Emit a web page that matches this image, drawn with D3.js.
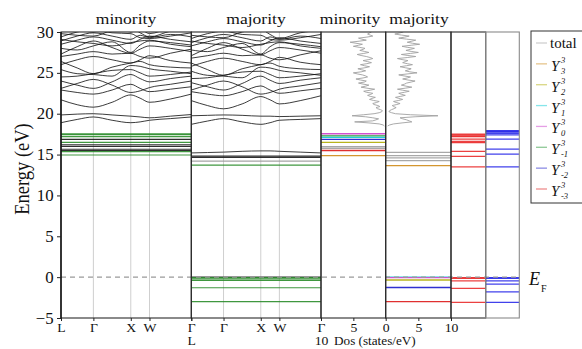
<!DOCTYPE html>
<html>
<head>
<meta charset="utf-8">
<script src="https://cdn.jsdelivr.net/npm/d3@7"></script>
<style>
  body { margin: 0; background: #fff; }
  svg text { font-family: "Liberation Serif", "DejaVu Serif", serif; fill: #111; }
</style>
</head>
<body>
<svg id="chart" width="582" height="349"></svg>
<script>
// k-path L-Γ-X-W-Γ (fcc), band energies sampled at kSamples
const kLabels = ['L', 'Γ', 'X', 'W', 'Γ'];
const kTicks = [0, 0.866, 1.866, 2.366, 3.484];
const kSamples = [0, 0.433, 0.866, 1.366, 1.866, 2.116, 2.366, 2.925, 3.484];
const energyTicks = [-5, 0, 5, 10, 15, 20, 25, 30];

const minorityBands = [
  [19.85, 19.95, 20.0, 19.85, 19.7, 19.6, 19.5, 19.7, 19.9],
  [18.9, 19.3, 19.6, 19.2, 18.9, 19.0, 19.2, 19.4, 19.6],
  [21.7, 21.1, 20.8, 21.4, 22.3, 21.9, 21.4, 21.8, 22.4],
  [22.9, 22.6, 22.4, 22.9, 23.6, 23.1, 22.7, 23.0, 23.3],
  [23.1, 23.7, 24.2, 23.5, 22.6, 22.8, 23.2, 23.6, 24.0],
  [24.0, 23.5, 23.1, 23.9, 24.8, 24.3, 23.9, 24.3, 24.6],
  [24.5, 24.6, 24.9, 25.3, 25.4, 25.0, 24.6, 24.8, 25.1],
  [25.4, 24.9, 24.8, 24.6, 25.9, 25.8, 25.5, 25.2, 24.9],
  [26.4, 25.6, 24.9, 25.7, 26.2, 26.4, 26.0, 25.7, 25.6],
  [26.0, 26.6, 27.0, 26.6, 26.2, 26.6, 27.1, 26.5, 26.2],
  [27.0, 27.3, 27.6, 27.3, 27.4, 27.0, 26.8, 27.4, 27.9],
  [27.3, 28.2, 28.9, 28.1, 27.4, 27.9, 28.3, 28.0, 27.6],
  [28.0, 27.8, 28.3, 28.8, 27.5, 28.4, 28.9, 28.7, 28.4],
  [28.5, 29.0, 29.4, 29.0, 28.6, 29.1, 29.5, 29.1, 28.8],
  [28.9, 29.5, 29.9, 29.5, 29.1, 29.6, 29.3, 29.7, 29.4],
  [29.4, 30.0, 30.3, 29.9, 29.8, 29.3, 29.2, 29.5, 29.9],
  [29.8, 29.6, 29.5, 30.2, 30.5, 29.9, 29.4, 30.1, 30.4],
  [30.3, 30.2, 30.0, 30.6, 30.0, 30.3, 29.8, 30.5, 30.8],
  [29.1, 28.8, 28.6, 28.3, 28.7, 28.9, 29.0, 28.5, 28.2]
];

const majorityBands = [
  [15.2, 15.25, 15.3, 15.4, 15.45, 15.45, 15.4, 15.3, 15.2],
  [19.75, 19.8, 19.85, 19.8, 19.7, 19.7, 19.65, 19.7, 19.75],
  [18.7, 19.1, 19.4, 19.0, 18.7, 18.9, 19.2, 19.3, 19.4],
  [21.6, 21.0, 20.6, 21.2, 22.1, 21.7, 21.2, 21.6, 22.2],
  [22.7, 22.4, 22.2, 22.7, 23.4, 22.9, 22.5, 22.8, 23.1],
  [22.9, 23.5, 24.0, 23.3, 22.4, 22.6, 23.0, 23.4, 23.8],
  [23.8, 23.3, 22.9, 23.7, 24.6, 24.1, 23.7, 24.1, 24.4],
  [24.3, 24.4, 24.7, 25.1, 25.2, 24.8, 24.4, 24.6, 24.9],
  [25.2, 24.7, 24.6, 24.4, 25.7, 25.6, 25.3, 25.0, 24.7],
  [26.2, 25.4, 24.7, 25.5, 26.0, 26.2, 25.8, 25.5, 25.4],
  [25.8, 26.4, 26.8, 26.4, 26.0, 26.4, 26.9, 26.3, 26.0],
  [26.8, 27.1, 27.4, 27.1, 27.2, 26.8, 26.6, 27.2, 27.7],
  [27.1, 28.0, 28.7, 27.9, 27.2, 27.7, 28.1, 27.8, 27.4],
  [27.8, 27.6, 28.1, 28.6, 27.3, 28.2, 28.7, 28.5, 28.2],
  [28.3, 28.8, 29.2, 28.8, 28.4, 28.9, 29.3, 28.9, 28.6],
  [28.7, 29.3, 29.7, 29.3, 28.9, 29.4, 29.1, 29.5, 29.2],
  [29.2, 29.8, 30.1, 29.7, 29.6, 29.1, 29.0, 29.3, 29.7],
  [29.6, 29.4, 29.3, 30.0, 30.3, 29.7, 29.2, 29.9, 30.2],
  [28.9, 28.6, 28.4, 28.1, 28.5, 28.7, 28.8, 28.3, 28.0]
];

// dispersionless f / d bands
const minorityFlatE = [17.55, 17.45, 17.2, 16.85, 16.5, 16.2, 16.0, 15.65, 15.5, 15.35, 14.95];
const minorityFlatKind = ['f', 'f', 'f', 'd', 'f', 'd', 'd', 'd', 'd', 'f', 'f'];
const majorityFlatE = [0.0, -0.05, -0.2, -0.4, -1.3, -3.0, 14.82, 14.66, 14.2, 13.72];
const majorityFlatKind = ['d', 'f', 'f', 'f', 'f', 'f', 'd', 'd', 'g', 'f'];

// total DOS (states/eV)
const dosEnergy = [18.5, 18.625, 18.75, 18.875, 19, 19.125, 19.25, 19.375, 19.5, 19.625,
  19.75, 19.875, 20, 20.125, 20.25, 20.375, 20.5, 20.625, 20.75, 20.875,
  21, 21.125, 21.25, 21.375, 21.5, 21.625, 21.75, 21.875, 22, 22.125,
  22.25, 22.375, 22.5, 22.625, 22.75, 22.875, 23, 23.125, 23.25, 23.375,
  23.5, 23.625, 23.75, 23.875, 24, 24.125, 24.25, 24.375, 24.5, 24.625,
  24.75, 24.875, 25, 25.125, 25.25, 25.375, 25.5, 25.625, 25.75, 25.875,
  26, 26.125, 26.25, 26.375, 26.5, 26.625, 26.75, 26.875, 27, 27.125,
  27.25, 27.375, 27.5, 27.625, 27.75, 27.875, 28, 28.125, 28.25, 28.375,
  28.5, 28.625, 28.75, 28.875, 29, 29.125, 29.25, 29.375, 29.5, 29.625,
  29.75, 29.875, 30];
const minorityDos = [0.2, 0.4, 1.0, 2.6, 4.8, 2.0, 1.5, 1.1, 2.0, 3.1,
  5.2, 3.4, 1.8, 1.0, 0.6, 0.5, 0.8, 1.3, 1.5, 0.9,
  1.2, 1.8, 2.0, 1.4, 1.0, 1.9, 2.5, 2.1, 1.6, 2.4,
  2.8, 2.3, 2.0, 3.0, 3.4, 2.4, 1.7, 2.9, 3.8, 3.1,
  2.6, 3.5, 4.2, 3.3, 3.0, 3.9, 4.6, 3.5, 2.8, 3.1,
  3.6, 4.4, 5.0, 3.8, 3.1, 3.7, 4.3, 3.2, 2.5, 3.3,
  3.9, 2.9, 2.2, 2.8, 3.5, 2.6, 2.0, 2.4, 3.0, 3.8,
  4.4, 3.4, 2.6, 3.3, 4.0, 3.5, 3.2, 4.1, 5.0, 4.2,
  3.6, 4.6, 5.5, 4.1, 3.0, 3.7, 4.2, 2.9, 2.0, 2.4,
  2.8, 2.5, 2.2];
const majorityDos = [0.3, 0.6, 1.2, 2.5, 4.0, 3.6, 3.2, 2.6, 2.2, 4.5,
  8.0, 3.8, 1.5, 0.9, 0.5, 0.6, 0.9, 1.3, 1.6, 1.2,
  1.0, 1.7, 2.2, 1.6, 1.2, 2.0, 2.6, 2.0, 1.5, 2.3,
  3.0, 2.4, 2.0, 2.9, 3.6, 2.6, 1.8, 3.0, 4.0, 3.1,
  2.4, 2.9, 3.2, 3.9, 4.5, 3.4, 2.6, 3.3, 3.8, 2.8,
  2.0, 3.4, 4.8, 3.7, 3.0, 3.5, 3.9, 3.0, 2.2, 3.2,
  4.1, 3.3, 2.6, 3.0, 3.4, 2.5, 1.8, 3.3, 4.6, 3.4,
  2.4, 3.8, 5.0, 3.9, 3.1, 3.8, 4.4, 3.3, 2.5, 3.9,
  5.2, 4.1, 3.3, 4.0, 4.6, 3.2, 2.0, 2.9, 3.6, 2.4,
  1.4, 2.1, 2.7];

// sharp f-peaks of the projected DOS
const minoritySpikeE = [17.55, 17.3, 17.1, 16.87, 16.5, 15.96, 15.76, 15.5, 14.86];
const minoritySpikeOrb = ['Y30', 'Y3-1', 'Y31', 'Y3-2', 'Y32', 'total', 'total', 'Y3-3', 'Y33'];
const majoritySpikeE = [15.27, 14.86, 14.6, 14.25, 13.64, 0.0, -0.05, -0.35, -1.27, -3.0];
const majoritySpikeOrb = ['total', 'total', 'total', 'total', 'Y33', 'Y31', 'Y30', 'Y32', 'Y3-2', 'Y3-3'];

// level diagrams
const levelsRed = [17.5, 17.4, 17.3, 17.2, 16.9, 16.6, 16.45, 15.4, 14.77, 13.5, -0.05, -0.15, -0.45, -1.38, -3.1];
const levelsBlue = [17.92, 17.85, 17.75, 17.6, 17.4, 16.88, 15.66, 15.05, 13.5, -0.05, -0.15, -0.45, -0.86, -1.8, -3.1];

const legendKeys = ['total', 'Y33', 'Y32', 'Y31', 'Y30', 'Y3-1', 'Y3-2', 'Y3-3'];
const legendSub = ['', '3', '2', '1', '0', '-1', '-2', '-3'];

const orbColor = d3.scaleOrdinal(legendKeys,
  ['#a8a8a8', '#d4962f', '#b8b41c', '#22d0d8', '#d050d0', '#2f9a3f', '#3030d0', '#e03030']);
const flatColor = { f: '#2a8c2a', d: '#1a1a1a', g: '#9a9a9a' };

const svg = d3.select('#chart');
const y = d3.scaleLinear().domain([-5, 30]).range([318, 32]);
const P = {
  minBand: [61, 191.3], majBand: [191.3, 321], minDos: [321, 385.7],
  majDos: [385.7, 451], red: [451, 485.7], blue: [485.7, 519.3]
};

function clipped(id, r) {
  svg.append('clipPath').attr('id', id).append('rect')
    .attr('x', r[0]).attr('y', y(30)).attr('width', r[1] - r[0]).attr('height', y(-5) - y(30));
  return svg.append('g').attr('clip-path', `url(#${id})`);
}

function styleAxis(g, size, sx) {
  g.select('.domain').remove();
  g.selectAll('line').attr('stroke', '#222');
  g.selectAll('text').style('font-size', size + 'px')
    .attr('transform', `scale(${sx},1)`);
}

function bandPanel(id, r, bands, flatE, flatKind) {
  const k = d3.scaleLinear().domain([0, 3.484]).range(r);
  const g = clipped(id, r);
  g.selectAll('line.sym').data(kTicks.slice(1, -1)).join('line')
    .attr('x1', d => k(d)).attr('x2', d => k(d)).attr('y1', y(30)).attr('y2', y(-5))
    .attr('stroke', '#cfcfcf').attr('stroke-width', 1);
  const line = d3.line().x((d, i) => k(kSamples[i])).y(d => y(d)).curve(d3.curveMonotoneX);
  g.selectAll('path.band').data(bands).join('path')
    .attr('d', line).attr('fill', 'none')
    .attr('stroke', '#111').attr('stroke-width', 1).attr('stroke-opacity', 0.82);
  g.selectAll('line.flat').data(flatE).join('line')
    .attr('x1', k(0)).attr('x2', k(3.484)).attr('y1', d => y(d)).attr('y2', d => y(d))
    .attr('stroke', (d, i) => flatColor[flatKind[i]]).attr('stroke-width', 1.2).attr('stroke-opacity', 0.9);
  return k;
}

const kMin = bandPanel('c1', P.minBand, minorityBands, minorityFlatE, minorityFlatKind);
const kMaj = bandPanel('c2', P.majBand, majorityBands, majorityFlatE, majorityFlatKind);

function dosPanel(id, r, dom, dos, spikeE, spikeOrb) {
  const x = d3.scaleLinear().domain(dom).range(r);
  const g = clipped(id, r);
  g.selectAll('line.spike').data(spikeE).join('line')
    .attr('x1', x(0)).attr('x2', x(12)).attr('y1', d => y(d)).attr('y2', d => y(d))
    .attr('stroke', (d, i) => orbColor(spikeOrb[i])).attr('stroke-width', 1.3);
  g.append('path').datum(dos)
    .attr('d', d3.line().x(d => x(d)).y((d, i) => y(dosEnergy[i])))
    .attr('fill', 'none').attr('stroke', '#a0a0a0').attr('stroke-width', 0.9);
  return x;
}

const xMinDos = dosPanel('c3', P.minDos, [10, 0], minorityDos, minoritySpikeE, minoritySpikeOrb);
const xMajDos = dosPanel('c4', P.majDos, [0, 10], majorityDos, majoritySpikeE, majoritySpikeOrb);

function levelPanel(id, r, levels, color) {
  const g = clipped(id, r);
  g.selectAll('line.lv').data(levels).join('line')
    .attr('x1', r[0]).attr('x2', r[1]).attr('y1', d => y(d)).attr('y2', d => y(d))
    .attr('stroke', color).attr('stroke-width', 1.3).attr('stroke-opacity', 0.85);
}
levelPanel('c5', P.red, levelsRed, '#e82020');
levelPanel('c6', P.blue, levelsBlue, '#2020e8');

// Fermi level
svg.append('line')
  .attr('x1', P.minBand[0]).attr('x2', P.blue[1]).attr('y1', y(0)).attr('y2', y(0))
  .attr('stroke', '#9a9a9a').attr('stroke-width', 1.2).attr('stroke-dasharray', '5,4');

// panel frames
Object.entries(P).forEach(([key, r]) => {
  svg.append('rect').attr('x', r[0]).attr('y', y(30)).attr('width', r[1] - r[0]).attr('height', y(-5) - y(30))
    .attr('fill', 'none').attr('stroke', key === 'blue' ? '#8a8a8a' : '#2a2a2a').attr('stroke-width', 1.1);
});
svg.append('line').attr('x1', P.minBand[0]).attr('x2', P.minBand[0]).attr('y1', y(30)).attr('y2', y(-5))
  .attr('stroke', '#111').attr('stroke-width', 1.4);

// axes
const yAxis = svg.append('g').attr('transform', `translate(${P.minBand[0]},0)`)
  .call(d3.axisLeft(y).tickValues(energyTicks).tickSize(4).tickPadding(3));
styleAxis(yAxis, 16, 1.05);

const kAxis = d3.axisBottom().tickValues(kTicks).tickFormat((d, i) => kLabels[i]).tickSize(3).tickPadding(2);
const ax1 = svg.append('g').attr('transform', `translate(0,${y(-5)})`).call(kAxis.scale(kMin));
styleAxis(ax1, 12.5, 1.1);
const ax2 = svg.append('g').attr('transform', `translate(0,${y(-5)})`).call(kAxis.scale(kMaj));
styleAxis(ax2, 12.5, 1.1);
ax2.select('.tick text').attr('dy', '1.75em');

const ax3 = svg.append('g').attr('transform', `translate(0,${y(-5)})`)
  .call(d3.axisBottom(xMinDos).tickValues([10, 5]).tickSize(3).tickPadding(2));
styleAxis(ax3, 12.5, 1.1);
ax3.select('.tick text').attr('dy', '1.75em');
const ax4 = svg.append('g').attr('transform', `translate(0,${y(-5)})`)
  .call(d3.axisBottom(xMajDos).tickValues([0, 5, 10]).tickSize(3).tickPadding(2));
styleAxis(ax4, 12.5, 1.1);

// labels
function stretched(x, yy, txt, size, sx, anchor) {
  return svg.append('text').attr('transform', `translate(${x},${yy}) scale(${sx},1)`)
    .attr('text-anchor', anchor || 'middle').style('font-size', size + 'px').text(txt);
}
stretched(126, 24, 'minority', 15, 1.17);
stretched(256, 24, 'majority', 15, 1.17);
stretched(350, 24, 'minority', 15, 1.17);
stretched(419, 24, 'majority', 15, 1.17);
stretched(334, 345, 'Dos (states/eV)', 12, 1.1, 'start');

svg.append('text').attr('transform', 'translate(29,169) scale(1.1,1) rotate(-90)')
  .attr('text-anchor', 'middle').style('font-size', '18.5px').text('Energy (eV)');

const ef = svg.append('text').attr('x', 529).attr('y', 285);
ef.append('tspan').style('font-size', '18px').style('font-style', 'italic').text('E');
ef.append('tspan').attr('dx', 1).attr('dy', 7).style('font-size', '10px').text('F');

// legend
const lg = svg.append('g').attr('transform', 'translate(531,31)');
lg.append('rect').attr('width', 70).attr('height', 172).attr('fill', '#fff')
  .attr('stroke', '#333').attr('stroke-width', 1);
const ly = d3.scalePoint().domain(legendKeys).range([12, 158]);
const item = lg.selectAll('g.item').data(legendKeys).join('g')
  .attr('transform', d => `translate(0,${ly(d)})`);
item.append('line').attr('x1', 5).attr('x2', 16)
  .attr('stroke', d => orbColor(d)).attr('stroke-width', 1.3).attr('stroke-opacity', 0.55);
item.filter(d => d === 'total').append('text').attr('x', 19).attr('y', 5)
  .style('font-size', '15px').text('total');
const yItem = item.filter(d => d !== 'total');
yItem.append('text').attr('x', 20).attr('y', 7).style('font-size', '15px').style('font-style', 'italic').text('Y');
yItem.append('text').attr('x', 30).attr('y', -1).style('font-size', '8.5px').style('font-style', 'italic').text('3');
yItem.append('text').attr('x', 30).attr('y', 10).style('font-size', '8.5px').style('font-style', 'italic')
  .text(d => legendSub[legendKeys.indexOf(d)]);
</script>
</body>
</html>
